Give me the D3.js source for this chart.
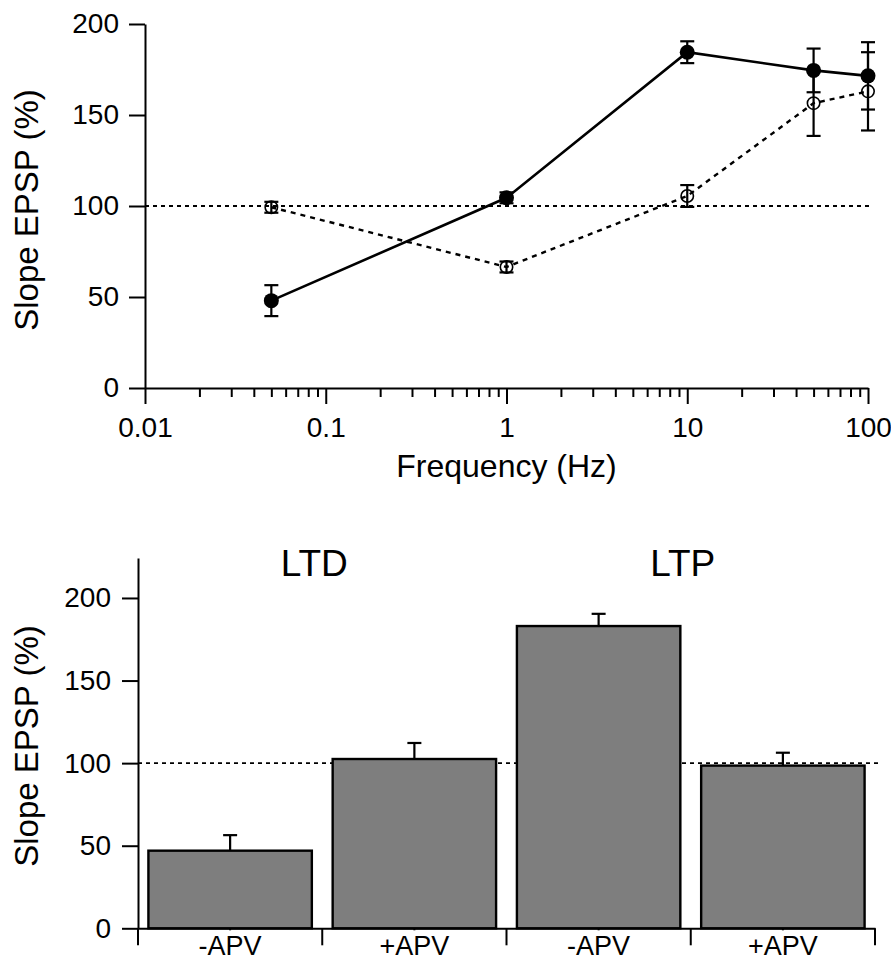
<!DOCTYPE html>
<html>
<head>
<meta charset="utf-8">
<script src="https://cdn.jsdelivr.net/npm/d3@7"></script>
<style>
  body { margin: 0; background: #fff; overflow: hidden; }
  svg { display: block; font-family: "Liberation Sans", Arial, Helvetica, sans-serif; }
  .axis path, .axis line { stroke: #000; stroke-width: 2px; }
  .axis text { fill: #000; font-size: 28px; font-family: "Liberation Sans", Arial, Helvetica, sans-serif; }
</style>
</head>
<body>
<div id="chart"></div>
<script>
// top panel: frequency-response data
const freqs = [0.05, 1, 10, 50, 100];
const controlMean = [48, 104.5, 184.5, 174.5, 171.5];
const controlErr = [8.5, 3, 6, 12, 18.5];
const apvMean = [99.3, 66.5, 105.5, 156.5, 163];
const apvErr = [3, 3, 6, 18, 21.5];
const freqTicks = [0.01, 0.1, 1, 10, 100];
const yTicks = [0, 50, 100, 150, 200];

// bottom panel: bar data
const barLabels = ["-APV", "+APV", "-APV", "+APV"];
const barMean = [47, 102.5, 183, 98.5];
const barErr = [9.4, 9.7, 7.4, 7.8];
const groupLabels = ["LTD", "LTP"];

const width = 891, height = 964;

const svg = d3.select("#chart")
  .append("svg")
  .attr("width", width)
  .attr("height", height);

// ---------- top chart ----------
const x = d3.scaleLog().domain([0.01, 100]).range([145, 868]);
const y = d3.scaleLinear().domain([0, 200]).range([388, 24]);

const minorTicks = [];
for (let d = 0.01; d < 100; d *= 10) {
  for (let k = 2; k <= 9; k++) minorTicks.push(+(d * k).toPrecision(3));
}

svg.append("g")
  .attr("class", "axis")
  .attr("transform", `translate(0,${y(0)})`)
  .call(d3.axisBottom(x).tickValues(minorTicks).tickSize(9).tickSizeOuter(0).tickFormat(""))
  .call((g) => g.select(".domain").remove());

svg.append("g")
  .attr("class", "axis")
  .attr("transform", `translate(0,${y(0)})`)
  .call(d3.axisBottom(x).tickValues(freqTicks).tickSize(16).tickSizeOuter(0).tickPadding(13)
    .tickFormat((d) => String(d)));

svg.append("g")
  .attr("class", "axis")
  .attr("transform", `translate(${x(0.01)},0)`)
  .call(d3.axisLeft(y).tickValues(yTicks).tickSize(16).tickSizeOuter(0).tickPadding(10));

svg.append("text")
  .attr("transform", `translate(38,${(y(0) + y(200)) / 2 + 4}) rotate(-90)`)
  .attr("text-anchor", "middle")
  .style("font-size", "33px")
  .text("Slope EPSP (%)");

svg.append("text")
  .attr("x", x(1))
  .attr("y", 477)
  .attr("text-anchor", "middle")
  .style("font-size", "32px")
  .text("Frequency (Hz)");

// reference line at 100 %
svg.append("line")
  .attr("x1", x(0.01)).attr("x2", x(100) + 2)
  .attr("y1", y(100)).attr("y2", y(100))
  .attr("stroke", "#000").attr("stroke-width", 1.8)
  .attr("stroke-dasharray", "4,4");

const ctrl = freqs.map((f, i) => ({ f, m: controlMean[i], e: controlErr[i] }));
const apv = freqs.map((f, i) => ({ f, m: apvMean[i], e: apvErr[i] }));

const line = d3.line().x((d) => x(d.f)).y((d) => y(d.m));

svg.append("path")
  .datum(apv)
  .attr("d", line)
  .attr("fill", "none")
  .attr("stroke", "#000")
  .attr("stroke-width", 2.4)
  .attr("stroke-dasharray", "5,5");

svg.append("path")
  .datum(ctrl)
  .attr("d", line)
  .attr("fill", "none")
  .attr("stroke", "#000")
  .attr("stroke-width", 2.6);

function errorBars(data, capW) {
  const g = svg.append("g").attr("stroke", "#000").attr("stroke-width", 2.2);
  g.selectAll(".v").data(data).enter().append("line")
    .attr("x1", (d) => x(d.f)).attr("x2", (d) => x(d.f))
    .attr("y1", (d) => y(d.m - d.e)).attr("y2", (d) => y(d.m + d.e));
  g.selectAll(".t").data(data).enter().append("line")
    .attr("x1", (d) => x(d.f) - capW / 2).attr("x2", (d) => x(d.f) + capW / 2)
    .attr("y1", (d) => y(d.m + d.e)).attr("y2", (d) => y(d.m + d.e));
  g.selectAll(".b").data(data).enter().append("line")
    .attr("x1", (d) => x(d.f) - capW / 2).attr("x2", (d) => x(d.f) + capW / 2)
    .attr("y1", (d) => y(d.m - d.e)).attr("y2", (d) => y(d.m - d.e));
}

errorBars(apv, 14);
errorBars(ctrl, 14);

svg.append("g").selectAll("circle").data(apv).enter().append("circle")
  .attr("cx", (d) => x(d.f)).attr("cy", (d) => y(d.m))
  .attr("r", 6.2)
  .attr("fill", "none")
  .attr("stroke", "#000")
  .attr("stroke-width", 1.6);

svg.append("g").selectAll("circle").data(ctrl).enter().append("circle")
  .attr("cx", (d) => x(d.f)).attr("cy", (d) => y(d.m))
  .attr("r", 7.5)
  .attr("fill", "#000");

// ---------- bottom chart ----------
const xb = d3.scaleBand()
  .domain(d3.range(barLabels.length))
  .range([138, 875])
  .paddingInner(0.113)
  .paddingOuter(0.0565);

const yb = d3.scaleLinear().domain([0, 224.2]).range([928.3, 558]);

const gap = (xb.step() - xb.bandwidth()) / 2;
const bounds = d3.range(barLabels.length + 1).map((i) =>
  i < barLabels.length ? xb(i) - gap : xb(i - 1) + xb.bandwidth() + gap);

// reference line
svg.append("line")
  .attr("x1", xb.range()[0]).attr("x2", xb.range()[1] + 5)
  .attr("y1", yb(100)).attr("y2", yb(100))
  .attr("stroke", "#000").attr("stroke-width", 1.8)
  .attr("stroke-dasharray", "4,4");

const bars = barMean.map((m, i) => ({ i, m, e: barErr[i] }));

// error bars (upper only)
const eb = svg.append("g").attr("stroke", "#000").attr("stroke-width", 2.2);
eb.selectAll(".v").data(bars).enter().append("line")
  .attr("x1", (d) => xb(d.i) + xb.bandwidth() / 2).attr("x2", (d) => xb(d.i) + xb.bandwidth() / 2)
  .attr("y1", (d) => yb(d.m)).attr("y2", (d) => yb(d.m + d.e));
eb.selectAll(".t").data(bars).enter().append("line")
  .attr("x1", (d) => xb(d.i) + xb.bandwidth() / 2 - 7).attr("x2", (d) => xb(d.i) + xb.bandwidth() / 2 + 7)
  .attr("y1", (d) => yb(d.m + d.e)).attr("y2", (d) => yb(d.m + d.e));

svg.append("g").selectAll("rect").data(bars).enter().append("rect")
  .attr("x", (d) => xb(d.i))
  .attr("y", (d) => yb(d.m))
  .attr("width", xb.bandwidth())
  .attr("height", (d) => yb(0) - yb(d.m))
  .attr("fill", "#7e7e7e")
  .attr("stroke", "#000")
  .attr("stroke-width", 2.4);

// x axis with center ticks and labels
svg.append("g")
  .attr("class", "axis")
  .attr("transform", `translate(0,${yb(0)})`)
  .call(d3.axisBottom(xb).tickSize(2).tickSizeOuter(0).tickPadding(6)
    .tickFormat((i) => barLabels[i]))
  .call((g) => g.selectAll("text").style("font-size", "27px"));

// boundary ticks
svg.append("g")
  .attr("stroke", "#000").attr("stroke-width", 2)
  .selectAll("line").data(bounds).enter().append("line")
  .attr("x1", (d) => d).attr("x2", (d) => d)
  .attr("y1", yb(0)).attr("y2", yb(0) + 17);

svg.append("g")
  .attr("class", "axis")
  .attr("transform", `translate(${xb.range()[0]},0)`)
  .call(d3.axisLeft(yb).tickValues(yTicks).tickSize(16).tickSizeOuter(0).tickPadding(11));

svg.append("text")
  .attr("transform", `translate(38,${746}) rotate(-90)`)
  .attr("text-anchor", "middle")
  .style("font-size", "33px")
  .text("Slope EPSP (%)");

svg.selectAll(".group-label").data(groupLabels).enter().append("text")
  .attr("class", "group-label")
  .attr("x", (d, i) => bounds[2 * i + 1] - 8)
  .attr("y", yb(213))
  .attr("text-anchor", "middle")
  .style("font-size", "37px")
  .text((d) => d);
</script>
</body>
</html>
